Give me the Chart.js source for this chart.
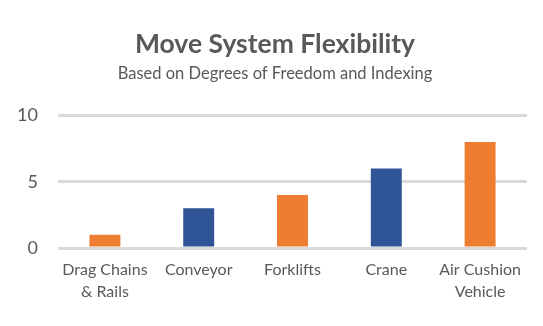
<!DOCTYPE html>
<html>
<head>
<meta charset="utf-8">
<script src="https://cdn.jsdelivr.net/npm/chart.js@4"></script>
<style>
  html, body { margin: 0; padding: 0; background: #fff; }
  #wrap { width: 543px; height: 326px; }
</style>
</head>
<body>
<div id="wrap"><canvas id="flex-chart"></canvas></div>
<script>
// move systems and their flexibility score
var categories = [["Drag Chains", "& Rails"], "Conveyor", "Forklifts", "Crane", ["Air Cushion", "Vehicle"]];
var scores = [1, 3, 4, 6, 8];
var yTicks = [0, 5, 10];

var ORANGE = "#ED7D31";
var BLUE = "#2F5597";
var TEXT = "#595959";
var barColors = [ORANGE, BLUE, ORANGE, BLUE, ORANGE];

Chart.defaults.font.family = "Lato, 'Open Sans', sans-serif";
Chart.defaults.color = TEXT;

var ctx = document.getElementById("flex-chart").getContext("2d");
new Chart(ctx, {
  type: "bar",
  data: {
    labels: categories,
    datasets: [{
      data: scores,
      backgroundColor: barColors,
      borderWidth: 0,
      barPercentage: 0.66,
      categoryPercentage: 0.5
    }]
  },
  options: {
    responsive: true,
    maintainAspectRatio: false,
    animation: false,
    layout: { padding: { top: 29, right: 6, bottom: 20, left: 13 } },
    plugins: {
      legend: { display: false },
      tooltip: { enabled: false },
      title: {
        display: true,
        text: "Move System Flexibility",
        color: TEXT,
        font: { size: 26.5, weight: "bold" },
        padding: { top: 0, bottom: 3 }
      },
      subtitle: {
        display: true,
        text: "Based on Degrees of Freedom and Indexing",
        color: TEXT,
        font: { size: 16.5 },
        padding: { top: 0, bottom: 32 }
      }
    },
    scales: {
      x: {
        grid: { display: false },
        border: { display: false },
        ticks: { color: TEXT, font: { size: 16, lineHeight: 1.375 }, padding: 3, maxRotation: 0 }
      },
      y: {
        min: 0,
        max: 10,
        afterBuildTicks: function(s) { s.ticks = yTicks.map(function(v) { return { value: v }; }); },
        afterFit: function(s) { s.width = 45; },
        grid: { color: "#d9d9d9", lineWidth: 3, drawTicks: false },
        border: { display: false },
        ticks: { color: TEXT, font: { size: 18 }, padding: 20 }
      },
      // empty right-hand gutter so the gridlines stop short of the edge
      yGutter: {
        type: "linear",
        position: "right",
        grid: { display: false },
        border: { display: false },
        ticks: { display: false },
        afterFit: function(s) { s.width = 10; }
      }
    }
  }
});
</script>
</body>
</html>
